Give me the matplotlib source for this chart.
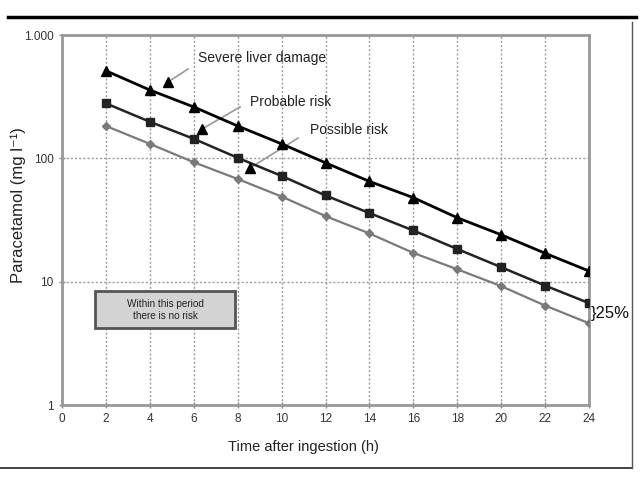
import matplotlib
matplotlib.use("Agg")
import matplotlib.pyplot as plt
from matplotlib.patches import Rectangle
from matplotlib.lines import Line2D

plt.rcParams['font.family'] = ['Liberation Sans', 'DejaVu Sans']

hours = [2, 4, 6, 8, 10, 12, 14, 16, 18, 20, 22, 24]
severe = [513, 358, 261, 183, 131, 92, 65, 48, 33, 24, 17, 12.2]
probable = [279, 198, 144, 101, 72, 50, 36, 26, 18.4, 13.1, 9.3, 6.7]
possible = [183, 131, 93, 68, 49, 34, 24.6, 17.1, 12.6, 9.2, 6.4, 4.6]

x_ticks = list(range(0, 25, 2))
y_ticks = [1, 10, 100, 1000]
y_tick_labels = ['1', '10', '100', '1.000']

fig = plt.figure(figsize=(6.4, 4.8), dpi=100)
ax = fig.add_axes([62/640, 1-405/480, (589-62)/640, (405-35)/480])
ax.set_yscale('log')
ax.set_xlim(0, 24)
ax.set_ylim(1, 1000)

ax.grid(True, which='major', linestyle=(0, (1.5, 1.5)), color='#9a9a9a', lw=1)
ax.set_axisbelow(True)

ax.plot(hours, possible, color='#7a7a7a', lw=1.6, marker='D', ms=4.5, zorder=3)
ax.plot(hours, probable, color='#222222', lw=1.8, marker='s', ms=6, zorder=3)
ax.plot(hours, severe, color='#000000', lw=2.0, marker='^', ms=7, zorder=3)

ax.set_xticks(x_ticks)
ax.set_xticklabels([str(t) for t in x_ticks])
ax.set_yticks(y_ticks)
ax.set_yticklabels(y_tick_labels)
ax.minorticks_off()
ax.tick_params(axis='both', direction='inout', length=5, width=1, color='#888888',
               labelsize=8.5, labelcolor='#333333')
for s in ax.spines.values():
    s.set_color('#999999')
    s.set_linewidth(2)

fig.text(303/640, 1-447/480, 'Time after ingestion (h)', ha='center', va='center',
         fontsize=10.5, color='#222222')
fig.text(18/640, 1-205/480, 'Paracetamol (mg l\u207b\u00b9)', ha='center', va='center',
         rotation=90, fontsize=12, color='#222222')

# no-risk box
ax.add_patch(Rectangle((1.5, 4.2), 6.4, 4.2, facecolor='#d3d3d3', edgecolor='#555555',
                       lw=2, zorder=4))
ax.text(4.7, 5.9, 'Within this period\nthere is no risk', ha='center', va='center',
        fontsize=7.2, color='#222222', zorder=5, linespacing=1.15)

# annotations
annos = [
    ('Severe liver damage', (6.19, 651), (5.74, 530), (4.83, 416)),
    ('Probable risk', (8.56, 286), (8.11, 261), (6.38, 173)),
    ('Possible risk', (11.29, 170), (10.75, 146), (8.56, 83.4)),
]
for label, tpos, lstart, tri in annos:
    ax.text(tpos[0], tpos[1], label, ha='left', va='center', fontsize=10, color='#222222')
    ax.plot([lstart[0], tri[0]], [lstart[1], tri[1]], color='#999999', lw=1.2, zorder=2)
    ax.plot([tri[0]], [tri[1]], marker='^', color='black', ms=7, zorder=4)

ax.text(24.1, 5.5, '}25%', ha='left', va='center', fontsize=12, color='#111111',
        clip_on=False)

# frame lines
fig.add_artist(Line2D([8/640, 636/640], [1-17/480]*2, transform=fig.transFigure,
                      color='black', lw=2.5))
fig.add_artist(Line2D([0, 632/640], [1-468/480]*2, transform=fig.transFigure,
                      color='#222222', lw=1.2))
fig.add_artist(Line2D([632/640]*2, [1-468/480, 1-22/480], transform=fig.transFigure,
                      color='#555555', lw=1))

fig.savefig('out.png', dpi=100)
